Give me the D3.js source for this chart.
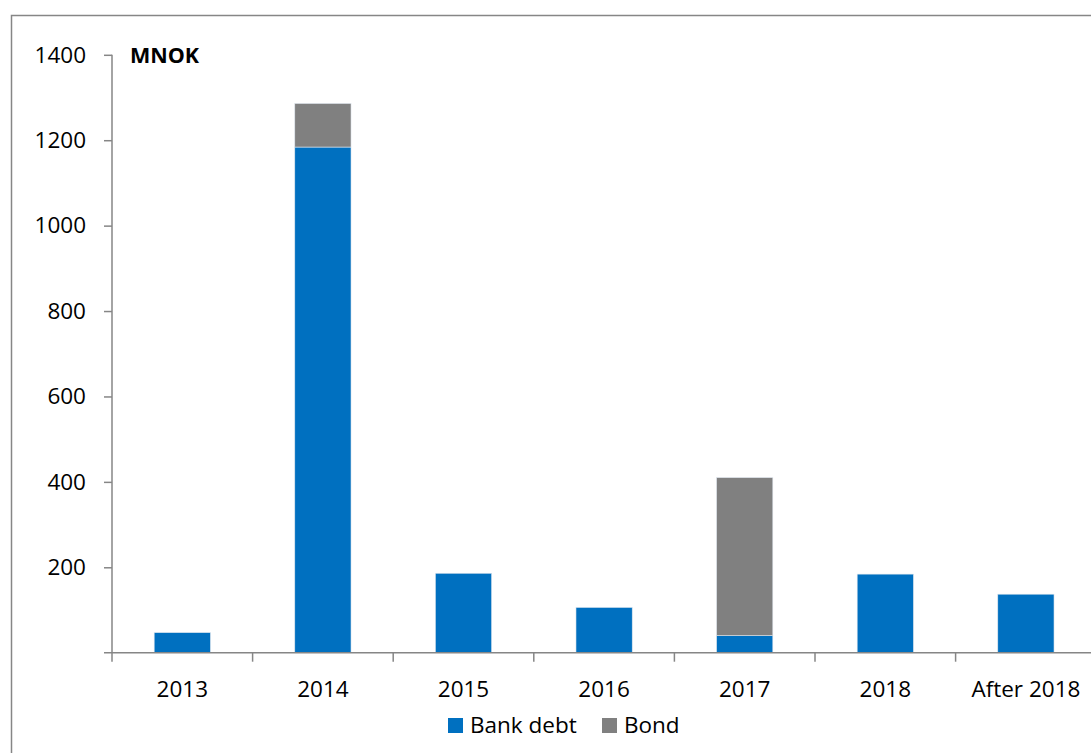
<!DOCTYPE html>
<html>
<head>
<meta charset="utf-8">
<script src="https://cdn.jsdelivr.net/npm/d3@7"></script>
<style>
  body { margin: 0; background: #fff; }
  svg text { font-family: "Open Sans", sans-serif; fill: #000; }
</style>
</head>
<body>
<svg width="1091" height="753"></svg>
<script>
const years = ["2013", "2014", "2015", "2016", "2017", "2018", "After 2018"]
const bankDebt = [47, 1184, 186, 106, 40, 184, 137]
const bond = [0, 102, 0, 0, 370, 0, 0]
const yTicks = [200, 400, 600, 800, 1000, 1200, 1400]
const seriesNames = ["Bank debt", "Bond"]
const colors = ["#0070C0", "#808080"]

const svg = d3.select("svg")
const x0 = 112, x1 = 112 + 7 * 140.6
const yTop = 54.8, yBot = 652.7
const fs = "22.5px"

// frame of the chart area (runs off the right and bottom)
svg.append("rect")
	.attr("x", 11.5).attr("y", 15.5)
	.attr("width", 1200).attr("height", 1000)
	.style("fill", "none").style("stroke", "#868686").style("stroke-width", 1.5)

const x = d3.scaleBand().domain(years).range([x0, x1])
	.paddingInner(0.6).paddingOuter(0.3)
const y = d3.scaleLinear().domain([0, 1400]).range([yBot, yTop])

const rows = years.map((yr, i) => ({ year: yr, "Bank debt": bankDebt[i], "Bond": bond[i] }))
const stacked = d3.stack().keys(seriesNames)(rows)

stacked.forEach((s, k) => {
	svg.append("g").selectAll("rect")
		.data(s)
		.enter().append("rect")
		.attr("x", d => x(d.data.year))
		.attr("width", x.bandwidth())
		.attr("y", d => y(d[1]))
		.attr("height", d => y(d[0]) - y(d[1]))
		.style("fill", colors[k])
		.style("stroke", "#dfe6ee")
		.style("stroke-width", 0.6)
})

// y axis
const yAxis = d3.axisLeft(y).tickValues(yTicks).tickFormat(d3.format("d")).tickSize(8).tickPadding(18)
const yg = svg.append("g").attr("transform", `translate(${x0},0)`).call(yAxis)
yg.select(".domain").remove()
yg.append("line").attr("x1", 0).attr("x2", 0).attr("y1", yTop).attr("y2", yBot)
yg.selectAll("line").style("stroke", "#868686").style("stroke-width", 1.5)
yg.selectAll("text").style("font-size", fs).style("font-family", "'Open Sans', sans-serif").style("fill", "#000")

// x axis
const xg = svg.append("g").attr("transform", `translate(0,${yBot})`)
xg.append("line").attr("x1", x0 - 8).attr("x2", 1100).attr("y1", 0).attr("y2", 0)
const step = x.step()
xg.selectAll("line.tick")
	.data(d3.range(years.length + 1))
	.enter().append("line").attr("class", "tick")
	.attr("x1", i => x0 + i * step).attr("x2", i => x0 + i * step)
	.attr("y1", 0).attr("y2", 9)
xg.selectAll("line").style("stroke", "#868686").style("stroke-width", 1.5)
xg.selectAll("text")
	.data(years)
	.enter().append("text")
	.attr("x", d => x(d) + x.bandwidth() / 2)
	.attr("y", 44)
	.attr("text-anchor", "middle")
	.style("font-size", fs)
	.text(d => d)

svg.append("text")
	.attr("x", 130).attr("y", 63)
	.style("font-size", "21.5px").style("font-weight", "bold")
	.text("MNOK")

// legend
const legX = [448, 602]
const leg = svg.append("g")
seriesNames.forEach((n, i) => {
	leg.append("rect").attr("x", legX[i]).attr("y", 718)
		.attr("width", 15).attr("height", 15).style("fill", colors[i])
	leg.append("text").attr("x", legX[i] + 22).attr("y", 733)
		.style("font-size", fs).text(n)
})
</script>
</body>
</html>
